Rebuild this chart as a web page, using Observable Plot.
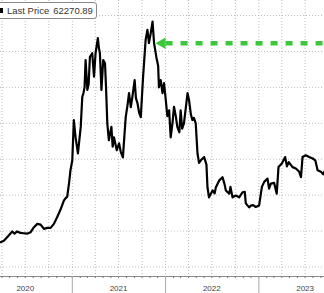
<!DOCTYPE html>
<html><head><meta charset="utf-8">
<script src="https://cdn.jsdelivr.net/npm/d3@7"></script>
<script src="https://cdn.jsdelivr.net/npm/@observablehq/plot@0.6"></script>
<style>
body{margin:0;background:#fff;overflow:hidden;}
#wrap{position:relative;width:324px;height:293px;overflow:hidden;}
#legend{position:absolute;left:-6px;top:2px;height:15px;border:1px solid #8a8a8a;border-radius:3px;background:#fff;
 font-family:"Liberation Sans",Arial,sans-serif;font-size:9.5px;color:#333;line-height:15px;padding:0 3px 0 3px;white-space:nowrap;display:flex;align-items:center;z-index:2;}
#legend .sw{display:inline-block;width:5px;height:5px;background:#000;margin-right:4px;}
#legend .v{margin-left:4px;}
</style></head><body>
<div id="wrap"><div id="legend"><span class="sw"></span><span id="lname"></span><span class="v" id="lval"></span></div></div>
<script>
const dates = ["2020-03-26","2020-04-08","2020-04-21","2020-05-11","2020-05-20","2020-05-30","2020-06-12","2020-06-25","2020-07-10","2020-07-22","2020-08-02","2020-08-17","2020-08-30","2020-09-12","2020-09-25","2020-10-08","2020-10-21","2020-11-03","2020-11-16","2020-11-29","2020-12-06","2020-12-12","2020-12-19","2020-12-25","2021-01-01","2021-01-07","2021-01-14","2021-01-23","2021-02-03","2021-02-09","2021-02-14","2021-02-18","2021-02-22","2021-03-01","2021-03-06","2021-03-11","2021-03-20","2021-03-27","2021-04-02","2021-04-11","2021-04-15","2021-04-19","2021-04-25","2021-05-02","2021-05-09","2021-05-13","2021-05-18","2021-05-24","2021-06-03","2021-06-08","2021-06-13","2021-06-24","2021-07-03","2021-07-10","2021-07-18","2021-07-29","2021-08-05","2021-08-11","2021-08-18","2021-08-24","2021-09-02","2021-09-07","2021-09-13","2021-09-20","2021-09-26","2021-10-05","2021-10-15","2021-10-22","2021-10-28","2021-11-04","2021-11-11","2021-11-17","2021-11-26","2021-12-03","2021-12-06","2021-12-13","2021-12-20","2021-12-26","2022-01-02","2022-01-08","2022-01-15","2022-01-21","2022-01-28","2022-02-03","2022-02-10","2022-02-16","2022-02-24","2022-03-01","2022-03-07","2022-03-14","2022-03-28","2022-04-03","2022-04-10","2022-04-16","2022-04-22","2022-04-29","2022-05-06","2022-05-12","2022-05-19","2022-06-01","2022-06-10","2022-06-14","2022-06-20","2022-07-04","2022-07-12","2022-07-17","2022-07-30","2022-08-12","2022-08-20","2022-08-25","2022-09-07","2022-09-12","2022-09-20","2022-10-03","2022-10-16","2022-10-29","2022-11-07","2022-11-11","2022-11-24","2022-12-01","2022-12-10","2022-12-20","2023-01-02","2023-01-13","2023-01-22","2023-02-04","2023-02-10","2023-02-17","2023-03-02","2023-03-12","2023-03-19","2023-04-01","2023-04-14","2023-04-21","2023-04-28","2023-05-13","2023-05-26","2023-06-08","2023-06-15","2023-06-21","2023-07-04","2023-07-17","2023-07-31","2023-08-10","2023-08-19","2023-09-01","2023-09-10","2023-09-17"];
const prices = [6900,7300,8300,9900,9300,9900,9500,9400,9300,9700,10900,12000,11800,10600,10900,10900,12000,13900,16000,18500,19200,19500,23200,27000,29700,40900,36000,31600,39000,47300,48500,50000,57600,49300,51000,58500,59500,53000,59500,63700,61000,59500,49300,57600,56700,50000,40000,35300,39000,33500,36100,32500,34400,32000,30500,41700,45000,48400,44500,47300,52000,47000,45600,42800,41700,52900,63200,66000,62300,65100,68300,62300,58400,56000,50000,52000,48400,51200,46400,42000,43600,36100,40000,44600,42000,39000,37500,43600,38500,40000,48400,46400,42500,40900,41500,40000,31600,29000,29700,30600,28500,22200,19400,21300,20500,22200,24100,25000,23000,21300,20400,22300,19400,19900,19400,20800,20900,17700,16600,17100,17200,16700,17100,22300,23700,24600,21800,23200,23400,20400,27800,28800,30600,28000,29200,27800,27400,26500,25000,30600,31100,30600,30200,29700,26900,26500,25800,26900];
const seriesName = "Last Price";
const lastPrice = 62270.89;
const arrowTip = "2021-11-23";
const arrowBase = "2022-01-01";
const xStart = "2020-03-26", xEnd = "2023-09-15";
const gridValues = [0,10000,20000,30000,40000,50000,60000,70000];
const yearTicks = ["2021-01-01","2022-01-01","2023-01-01"];
const yearLabelDates = ["2020-07-01","2021-07-01","2022-07-01","2023-07-01"];
const yearLabels = ["2020","2021","2022","2023"];

document.getElementById("lname").textContent = seriesName;
document.getElementById("lval").textContent = lastPrice.toFixed(2);

const data = dates.map((d,i)=>({date:new Date(d), price:prices[i]}));
const quarters = d3.utcMonth.every(3).range(new Date(xStart), new Date(xEnd));
const months = d3.utcMonth.range(new Date(xStart), new Date(xEnd));
const green = "#3cc83c";
const grid = "#bdbdbd";

const chart = Plot.plot({
  width:324, height:293,
  marginLeft:0, marginRight:0, marginTop:0, marginBottom:17,
  insetTop:15, insetBottom:9.5,
  x:{type:"utc", domain:[new Date(xStart), new Date(xEnd)]},
  y:{domain:[0,70000], axis:null},
  style:{fontFamily:"Liberation Sans, Arial, sans-serif", fontSize:"8px", color:"#333", background:"#fff", overflow:"hidden"},
  marks:[
    Plot.ruleY(gridValues, {stroke:grid, strokeDasharray:"1,2"}),
    Plot.ruleX(quarters, {stroke:grid, strokeDasharray:"1,2"}),
    Plot.ruleY([0], {dy:9.5, stroke:"#8c8c8c"}),
    Plot.axisX({ticks:months, tickSize:2, tickFormat:()=>"", stroke:"#777"}),
    Plot.axisX({ticks:yearTicks.map(d=>new Date(d)), tickSize:17, tickFormat:()=>"", stroke:"#aaa"}),
    Plot.axisX({ticks:yearLabelDates.map(d=>new Date(d)), tickSize:0, tickPadding:8.5, tickFormat:(d,i)=>yearLabels[i], fill:"#444"}),
    Plot.line(data, {x:"date", y:"price", stroke:"#000", strokeWidth:2.2}),
    Plot.link([{x1:new Date(arrowBase), x2:new Date(xEnd), y:lastPrice}], {x1:"x1", x2:"x2", y1:"y", y2:"y", stroke:green, strokeWidth:4.5, strokeDasharray:"7,8"}),
    Plot.dot([{x:new Date(arrowTip), y:lastPrice}], {x:"x", y:"y", symbol:"triangle", r:4.3, rotate:-90, fill:green, dx:6.6})
  ]
});
document.getElementById("wrap").appendChild(chart);
</script>
</body></html>
